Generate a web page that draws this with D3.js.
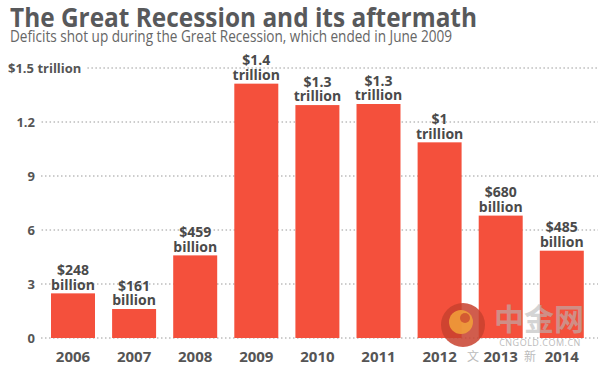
<!DOCTYPE html>
<html><head><meta charset="utf-8">
<script src="https://cdn.jsdelivr.net/npm/d3@7"></script>
<style>
body{margin:0;background:#fff;}
svg{display:block;font-family:"Open Sans",sans-serif;}
</style></head>
<body><svg id="c" width="600" height="375"></svg>
<script>
const years = ["2006","2007","2008","2009","2010","2011","2012","2013","2014"];
const deficits = [0.248, 0.161, 0.459, 1.413, 1.294, 1.300, 1.087, 0.680, 0.485];
const labelTop = ["$248","$161","$459","$1.4","$1.3","$1.3","$1","$680","$485"];
const labelBottom = ["billion","billion","billion","trillion","trillion","trillion","trillion","billion","billion"];
const tickValues = [0, 0.3, 0.6, 0.9, 1.2, 1.5];
const tickLabels = ["0","3","6","9","1.2","$1.5 trillion"];

const svg = d3.select("#c");
const x = d3.scaleBand().domain(years).range([42.45, 592.35]).paddingInner(0.28).paddingOuter(0.14);
const y = d3.scaleLinear().domain([0, 1.5]).range([338, 68]);

// title
svg.append("text").attr("x",10).attr("y",27).attr("font-size",27).attr("font-weight",700)
  .attr("fill","#58595b").attr("textLength",467).attr("lengthAdjust","spacingAndGlyphs")
  .text("The Great Recession and its aftermath");
svg.append("text").attr("x",10).attr("y",42).attr("font-size",15.5).attr("font-weight",400)
  .attr("fill","#666").attr("textLength",442).attr("lengthAdjust","spacingAndGlyphs")
  .text("Deficits shot up during the Great Recession, which ended in June 2009");

// grid + tick labels
const g = svg.append("g");
tickValues.forEach((v,i)=>{
  const top = i === tickValues.length-1;
  const t = g.append("text").attr("y", y(v)+4.5).attr("font-size",13).attr("font-weight",700)
    .attr("fill","#555").text(tickLabels[i]);
  if (top) t.attr("x",8).attr("text-anchor","start");
  else t.attr("x",35).attr("text-anchor","end");
  const bb = t.node().getBBox();
  g.append("line").attr("x1", bb.x+bb.width+6).attr("x2",598)
    .attr("y1", y(v)).attr("y2", y(v))
    .attr("stroke","#9a9a9a").attr("stroke-width",1).attr("stroke-dasharray","1.5,2.5");
});

// bars
svg.append("g").selectAll("rect").data(years).join("rect")
  .attr("x", d=>x(d)).attr("width", x.bandwidth())
  .attr("y", (d,i)=>y(deficits[i])).attr("height",(d,i)=>y(0)-y(deficits[i]))
  .attr("fill","#f4503c");

// value labels
const vl = svg.append("g").attr("font-size",14).attr("font-weight",700).attr("fill","#4a4a4a").attr("text-anchor","middle");
years.forEach((d,i)=>{
  const cx = x(d)+x.bandwidth()/2, ty = y(deficits[i]);
  vl.append("text").attr("x",cx).attr("y",ty-18.3).text(labelTop[i]);
  vl.append("text").attr("x",cx).attr("y",ty-3.6).text(labelBottom[i]);
});

// year labels
svg.append("g").selectAll("text").data(years).join("text")
  .attr("x", d=>x(d)+x.bandwidth()/2).attr("y",361.5).attr("text-anchor","middle")
  .attr("font-size",15).attr("font-weight",700).attr("fill","#555").text(d=>d);

// watermark
const wm = svg.append("g");
wm.append("circle").attr("cx",463).attr("cy",325).attr("r",22).attr("fill","#c8412e").attr("opacity",0.85);
wm.append("circle").attr("cx",461).attr("cy",322).attr("r",12).attr("fill","#f2a13a").attr("opacity",0.85);
wm.append("circle").attr("cx",465).attr("cy",318).attr("r",5).attr("fill","#c8412e").attr("opacity",0.7);
wm.append("text").attr("x",539).attr("y",330).attr("text-anchor","middle")
  .attr("font-family","Noto Sans CJK SC").attr("font-size",30).attr("font-weight",700)
  .attr("fill","#b8b8b8").attr("opacity",0.6).text("中金网");
wm.append("text").attr("x",540).attr("y",346).attr("text-anchor","middle")
  .attr("font-size",9).attr("fill","#bbb").attr("letter-spacing",0.5).text("CNGOLD.COM.CN");
wm.append("text").attr("x",473).attr("y",361).attr("text-anchor","middle")
  .attr("font-family","Noto Sans CJK SC").attr("font-size",12).attr("fill","#bbb").text("文");
wm.append("text").attr("x",530).attr("y",361).attr("text-anchor","middle")
  .attr("font-family","Noto Sans CJK SC").attr("font-size",12).attr("fill","#bbb").text("新");
</script></body></html>
